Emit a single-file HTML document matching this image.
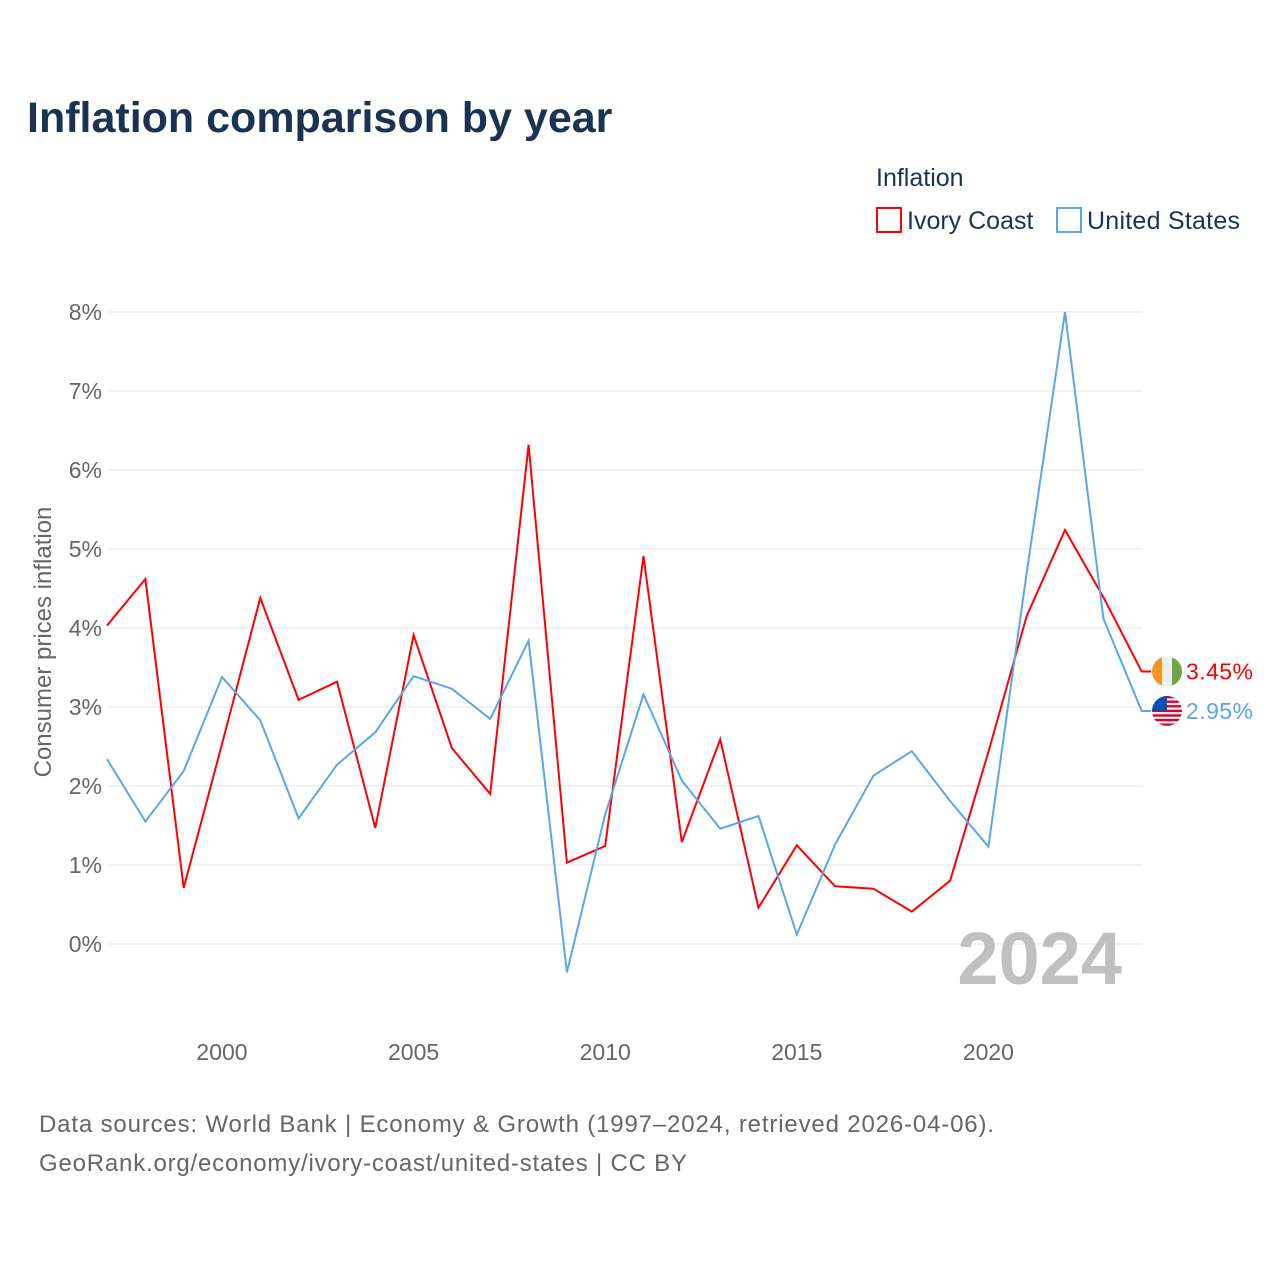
<!DOCTYPE html>
<html><head><meta charset="utf-8"><style>
body{margin:0;background:#fff;font-family:"Liberation Sans",sans-serif;}
svg text{font-family:"Liberation Sans",sans-serif;}
</style></head><body>
<svg id="chart" width="1280" height="1280" xmlns="http://www.w3.org/2000/svg">
<text x="27" y="132" font-size="43" font-weight="bold" fill="#1b3352">Inflation comparison by year</text>
<text x="876" y="186" font-size="25" fill="#1b3352">Inflation</text>
<g><rect x="877" y="208" width="24" height="24" fill="none" stroke="#ff0000" stroke-width="2"/><text x="907" y="229" font-size="25" fill="#1b3352">Ivory Coast</text></g>
<g><rect x="1057" y="208" width="24" height="24" fill="none" stroke="#5aa6ee" stroke-width="2"/><text x="1087" y="229" font-size="25" fill="#1b3352" textLength="153">United States</text></g>
<g id="grid"></g>
<text transform="translate(51,642) rotate(-90)" text-anchor="middle" font-size="24" fill="#666">Consumer prices inflation</text>
<text x="1122" y="984" text-anchor="end" font-size="74" font-weight="bold" fill="#c0c0c0">2024</text>
<g id="series"></g>
<text x="39" y="1132" font-size="24" fill="#666" textLength="955">Data sources: World Bank | Economy &amp; Growth (1997–2024, retrieved 2026-04-06).</text>
<text x="39" y="1171" font-size="24" fill="#666" textLength="648">GeoRank.org/economy/ivory-coast/united-states | CC BY</text>
</svg>
<script>
const years=[1997,1998,1999,2000,2001,2002,2003,2004,2005,2006,2007,2008,2009,2010,2011,2012,2013,2014,2015,2016,2017,2018,2019,2020,2021,2022,2023,2024];
const ivoryCoast=[4.03,4.62,0.71,2.53,4.38,3.09,3.32,1.47,3.91,2.48,1.90,6.32,1.03,1.24,4.91,1.29,2.59,0.46,1.25,0.73,0.70,0.41,0.80,2.43,4.15,5.24,4.39,3.45];
const unitedStates=[2.34,1.55,2.19,3.38,2.83,1.59,2.27,2.68,3.39,3.23,2.85,3.84,-0.36,1.64,3.16,2.07,1.46,1.62,0.12,1.26,2.13,2.44,1.81,1.23,4.70,8.00,4.12,2.95];
const yTicks=[0,1,2,3,4,5,6,7,8];
const xTicks=[2000,2005,2010,2015,2020];
const NS="http://www.w3.org/2000/svg";
const xs=y=>222+(y-2000)*38.32;
const ys=v=>944-v*79;
const grid=document.getElementById('grid'),ser=document.getElementById('series');
function mk(tag,attrs,parent){const e=document.createElementNS(NS,tag);for(const k in attrs)e.setAttribute(k,attrs[k]);parent.appendChild(e);return e;}
yTicks.forEach(t=>{
 const l=mk('line',{x1:108,x2:1142,y1:ys(t),y2:ys(t),stroke:'#e6e6e6','stroke-width':1},grid);
 
 
 const tx=mk('text',{x:102,y:ys(t)+8,'text-anchor':'end','font-size':23,fill:'#666'},grid);
 tx.textContent=t+'%';
 
 
});
xTicks.forEach(t=>{
 const tx=mk('text',{x:xs(t),y:1060,'text-anchor':'middle','font-size':23,fill:'#666'},grid);
 tx.textContent=t;
 
 
});
function draw(vals,color,name){
 let d=vals.map((v,i)=>(i?'L':'M')+xs(years[i]).toFixed(1)+','+ys(v).toFixed(1)).join(' ');
 const last=vals[vals.length-1];
 d+=' L1151,'+ys(last).toFixed(1);
 const p=mk('path',{d:d,fill:'none',stroke:color,'stroke-width':2,'stroke-linejoin':'miter'},ser);
 
 
 const t=mk('text',{x:1186,y:ys(last)+8,'font-size':23,fill:color,textLength:67},ser);
 t.textContent=last.toFixed(2)+'%';
 
 
 return ys(last);
}
const yc=draw(ivoryCoast,'#ff0000','ivory-coast');
const yu=draw(unitedStates,'#5aa6ee','united-states');
const f1=mk('g',{},ser);


const cp1=mk('clipPath',{id:'c1'},f1);mk('circle',{cx:1167,cy:yc,r:15},cp1);
const g1=mk('g',{'clip-path':'url(#c1)'},f1);
mk('rect',{x:1152,y:yc-15,width:10,height:30,fill:'#f7931e'},g1);
mk('rect',{x:1162,y:yc-15,width:10,height:30,fill:'#eeeeee'},g1);
mk('rect',{x:1172,y:yc-15,width:10,height:30,fill:'#6da544'},g1);
const f2=mk('g',{},ser);


const cp=mk('clipPath',{id:'c2'},f2);mk('circle',{cx:1167,cy:yu,r:15},cp);
const g2=mk('g',{'clip-path':'url(#c2)'},f2);
mk('rect',{x:1152,y:yu-15,width:30,height:30,fill:'#eeeeee'},g2);
for(let i=0;i<7;i++)mk('rect',{x:1152,y:yu-15+i*4.6,width:30,height:2.3,fill:'#d80027'},g2);
mk('rect',{x:1152,y:yu-15,width:15,height:15,fill:'#0052b4'},g2);
</script>
</body></html>
